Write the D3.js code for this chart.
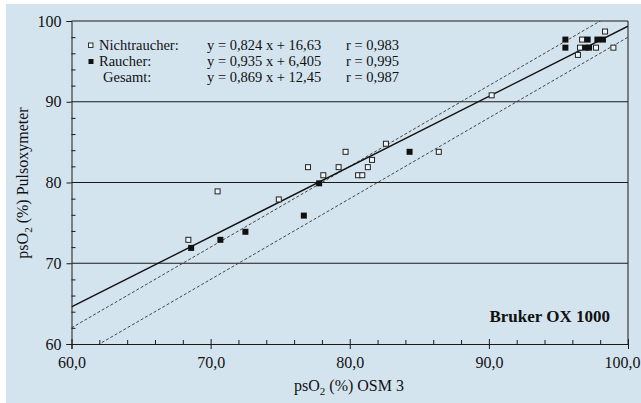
<!DOCTYPE html>
<html>
<head>
<meta charset="utf-8">
<script src="https://cdn.jsdelivr.net/npm/d3@7"></script>
<style>
  body { margin: 0; background: #ffffff; }
  svg { display: block; }
  text { font-family: "Liberation Serif", "Times New Roman", serif; fill: #111; }
</style>
</head>
<body>
<svg id="chart" width="641" height="403"></svg>
<script>
// ---- data ----
const xTicks = [60, 70, 80, 90, 100];
const yTicks = [60, 70, 80, 90, 100];
const gridValues = [70, 80, 90];

// Nichtraucher (open squares): [psO2 OSM 3, psO2 Pulsoxymeter]
const nichtraucherX = [68.4, 70.5, 74.9, 77.0, 78.1, 79.2, 79.7, 80.6, 80.9, 81.3, 81.6, 82.6, 86.4, 90.2, 96.7, 98.35, 96.55, 97.7, 98.95, 96.4];
const nichtraucherY = [72.9, 78.9, 77.9, 81.9, 80.9, 81.9, 83.8, 80.9, 80.9, 81.9, 82.8, 84.8, 83.8, 90.8, 97.7, 98.7, 96.7, 96.7, 96.7, 95.8];

// Raucher (filled squares)
const raucherX = [68.6, 70.7, 72.5, 76.7, 77.8, 84.3, 95.5, 95.5, 97.1, 97.8, 98.2, 96.95, 97.2];
const raucherY = [71.9, 72.9, 73.9, 75.9, 79.9, 83.8, 97.7, 96.7, 97.7, 97.7, 97.7, 96.7, 96.7];

// Regression (Gesamt) and +/-2 limits
const gesamtSlope = 0.869, gesamtIntercept = 12.45;
const limitOffsets = [2, -2];

const legendNames = ["Nichtraucher:", "Raucher:", "Gesamt:"];
const legendEquations = ["y = 0,824 x + 16,63", "y = 0,935 x + 6,405", "y = 0,869 x + 12,45"];
const legendR = ["r = 0,983", "r = 0,995", "r = 0,987"];

// ---- chart ----
const svg = d3.select("#chart");
const W = 641, H = 403;
svg.append("rect").attr("width", W).attr("height", H).attr("fill", "#ffffff");
svg.append("rect").attr("x", 6).attr("y", 4).attr("width", W - 6).attr("height", H - 4).attr("fill", "#d4e4ef");

const x = d3.scaleLinear().domain([60, 100]).range([71.5, 628]);
const y = d3.scaleLinear().domain([60, 100]).range([344, 21]);
const fmt = d => d3.format(".1f")(d).replace(".", ",");

// gridlines
svg.append("g").selectAll("line").data(gridValues).join("line")
  .attr("x1", x(60)).attr("x2", x(100))
  .attr("y1", d => y(d)).attr("y2", d => y(d))
  .attr("stroke", "#1a1a1a").attr("stroke-width", 1);

// frame top and right
svg.append("line").attr("x1", x(60)).attr("x2", x(100)).attr("y1", y(100)).attr("y2", y(100))
  .attr("stroke", "#1a1a1a").attr("stroke-width", 1);
svg.append("line").attr("x1", x(100)).attr("x2", x(100)).attr("y1", y(100)).attr("y2", y(60))
  .attr("stroke", "#1a1a1a").attr("stroke-width", 1);

// x axis
const minorX = d3.range(62, 100, 2).filter(v => v % 10 !== 0);
const gx = svg.append("g").attr("transform", `translate(0,${y(60)})`)
  .call(d3.axisBottom(x).tickValues(xTicks).tickSize(5).tickPadding(8).tickFormat(fmt));
gx.selectAll(".tick text").filter(d => d === 100).attr("text-anchor", "end").attr("x", 12);
svg.append("g").attr("transform", `translate(0,${y(60)})`)
  .call(d3.axisTop(x).tickValues(xTicks).tickSize(5).tickFormat(""))
  .call(g => g.select(".domain").remove());
svg.append("g").attr("transform", `translate(0,${y(60)})`)
  .call(d3.axisTop(x).tickValues(minorX).tickSize(4).tickFormat(""))
  .call(g => g.select(".domain").remove());

// y axis
const minorY = d3.range(62, 100, 2).filter(v => v % 10 !== 0);
const gy = svg.append("g").attr("transform", `translate(${x(60)},0)`)
  .call(d3.axisLeft(y).tickValues(yTicks).tickSize(5).tickPadding(5).tickFormat(d3.format("d")));
svg.append("g").attr("transform", `translate(${x(60)},0)`)
  .call(d3.axisRight(y).tickValues(minorY).tickSize(4).tickFormat(""))
  .call(g => g.select(".domain").remove());

svg.selectAll(".domain, .tick line").attr("stroke", "#1a1a1a").attr("stroke-width", 1);
svg.selectAll(".tick text").attr("font-family", "Liberation Serif, serif").attr("font-size", 16).attr("fill", "#111");

// limit lines y = x +/- 2 (clipped to plot)
svg.append("clipPath").attr("id", "plotclip").append("rect")
  .attr("x", x(60)).attr("y", y(100)).attr("width", x(100) - x(60)).attr("height", y(60) - y(100));
const plot = svg.append("g").attr("clip-path", "url(#plotclip)");
plot.selectAll("line.limit").data(limitOffsets).join("line").attr("class", "limit")
  .attr("x1", x(60)).attr("y1", d => y(60 + d))
  .attr("x2", x(100)).attr("y2", d => y(100 + d))
  .attr("stroke", "#333").attr("stroke-width", 0.9).attr("stroke-dasharray", "3,2");

// regression line
plot.append("line")
  .attr("x1", x(60)).attr("y1", y(gesamtSlope * 60 + gesamtIntercept))
  .attr("x2", x(100)).attr("y2", y(gesamtSlope * 100 + gesamtIntercept))
  .attr("stroke", "#111").attr("stroke-width", 1.4);

// points
const s = 5;
svg.append("g").selectAll("rect").data(nichtraucherX.map((v, i) => [v, nichtraucherY[i]])).join("rect")
  .attr("x", d => x(d[0]) - s / 2).attr("y", d => y(d[1]) - s / 2)
  .attr("width", s).attr("height", s)
  .attr("fill", "#eef4f8").attr("stroke", "#222").attr("stroke-width", 1);
svg.append("g").selectAll("rect").data(raucherX.map((v, i) => [v, raucherY[i]])).join("rect")
  .attr("x", d => x(d[0]) - (s + 1) / 2).attr("y", d => y(d[1]) - (s + 1) / 2)
  .attr("width", s + 1).attr("height", s + 1)
  .attr("fill", "#111");

// legend
const rows = [50, 66, 82];
const lg = svg.append("g");
lg.append("rect").attr("x", 88.5).attr("y", rows[0] - 7).attr("width", 4.5).attr("height", 4.5)
  .attr("fill", "#eef4f8").attr("stroke", "#222").attr("stroke-width", 0.9);
lg.append("rect").attr("x", 88.5).attr("y", rows[1] - 7).attr("width", 5).attr("height", 5).attr("fill", "#111");
legendNames.forEach((n, i) => {
  lg.append("text").attr("x", i === 2 ? 103 : 99).attr("y", rows[i]).attr("font-size", 14.5).text(n);
  lg.append("text").attr("x", 207).attr("y", rows[i]).attr("font-size", 14.5).text(legendEquations[i]);
  lg.append("text").attr("x", 346).attr("y", rows[i]).attr("font-size", 14.5).text(legendR[i]);
});

// device label
svg.append("text").attr("x", 610).attr("y", 322).attr("text-anchor", "end")
  .attr("font-size", 17).attr("font-weight", "bold").text("Bruker OX 1000");

// axis titles
const xt = svg.append("text").attr("x", 349).attr("y", 391).attr("text-anchor", "middle").attr("font-size", 16);
xt.append("tspan").text("psO");
xt.append("tspan").attr("font-size", 11).attr("dy", 4).text("2");
xt.append("tspan").attr("dy", -4).text(" (%) OSM 3");

const yt = svg.append("text").attr("transform", `translate(28,183) rotate(-90)`).attr("text-anchor", "middle").attr("font-size", 16);
yt.append("tspan").text("psO");
yt.append("tspan").attr("font-size", 11).attr("dy", 4).text("2");
yt.append("tspan").attr("dy", -4).text(" (%) Pulsoxymeter");
</script>
</body>
</html>
